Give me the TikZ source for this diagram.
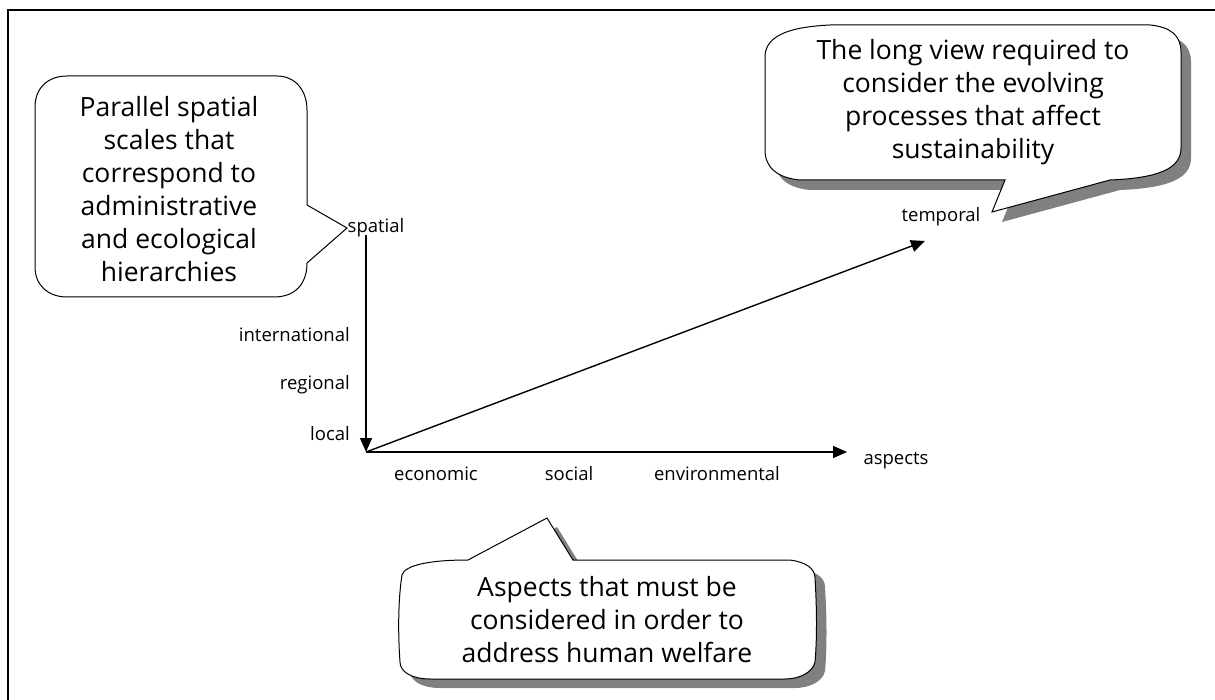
\documentclass[tikz,border=0pt]{standalone}
\usepackage{fontspec}
\setmainfont{Open Sans}
\usetikzlibrary{arrows.meta}
\newcommand\pathTR{(765,55) .. controls (767,35) and (790,27) .. (830,25) -- (1150,25) .. controls (1170,27) and (1181,35) .. (1181,52) -- (1181,148) .. controls (1181,168) and (1160,178) .. (1110,180) -- (992,212) -- (1005,180) -- (800,180) .. controls (778,178) and (765,168) .. (765,150) -- cycle}
\newcommand\pathBT{(402,575) .. controls (405,565) and (430,560) .. (468,560) -- (547,518) -- (573,560) -- (790,560) .. controls (805,562) and (815,568) .. (815,578) .. controls (817,610) and (817,640) .. (815,662) .. controls (813,672) and (800,679) .. (785,679) -- (430,679) .. controls (412,679) and (400,672) .. (400,662) .. controls (398,635) and (398,600) .. (402,575) -- cycle}
\newcommand\pathLT{(67,76) -- (277,76) .. controls (295,76) and (307,90) .. (307,110) -- (307,205) -- (347,228) -- (307,263) .. controls (307,284) and (295,297) .. (274,297) -- (67,297) .. controls (48,297) and (35,285) .. (35,267) -- (35,107) .. controls (35,88) and (48,76) .. (67,76) -- cycle}
\begin{document}
\begin{tikzpicture}[x=1pt,y=-1pt,
  axis/.style={line width=1.4pt, -{Triangle[length=14pt,width=12pt]}},
  bubble/.style={draw=black, line width=1pt, fill=white, line join=miter},
  shadowfill/.style={fill=black!50, draw=none},
  bigtext/.style={align=center, font=\fontsize{26.5}{33}\selectfont, inner sep=0pt},
  small/.style={font=\fontsize{18.5}{22}\selectfont, inner sep=0pt},
]
\useasboundingbox (0,0) rectangle (1215,700);
% frame
\draw[line width=2pt] (8,700) -- (8,10) -- (1215,10);

% callouts
\path[shadowfill, shift={(10,10)}] \pathTR;
\draw[bubble] \pathTR;
\path[shadowfill, shift={(10,9)}] \pathBT;
\draw[bubble] \pathBT;
\draw[bubble] \pathLT;

\node[bigtext] (tLeft) at (169,189) {Parallel spatial\\scales that\\correspond to\\administrative\\and ecological\\hierarchies};
\node[bigtext] (tTR) at (973,102) {The long view required to\\consider the evolving\\processes that affect\\sustainability};
\node[bigtext] (tBT) at (607,620) {Aspects that must be\\considered in order to\\address human welfare};

% axes
\coordinate (O) at (366,452);
\coordinate (Vtop) at (366,235);
\coordinate (Hend) at (847,452);
\coordinate (Tend) at (925,241);
\draw[axis] (Vtop) -- (O);
\draw[axis] (O) -- (Hend);
\draw[axis] (O) -- (Tend);

% labels
\node[small] (spatial) at (376,228) {spatial};
\node[small, anchor=east] (intl) at (350,335) {international};
\node[small, anchor=east] (reg) at (350,385) {regional};
\node[small, anchor=east] (loc) at (350,434) {local};
\node[small] (eco) at (436,474) {economic};
\node[small] (soc) at (569,474) {social};
\node[small] (env) at (717,474) {environmental};
\node[small] (asp) at (896,461) {aspects};
\node[small] (temp) at (941,217) {temporal};
\end{tikzpicture}
\end{document}
